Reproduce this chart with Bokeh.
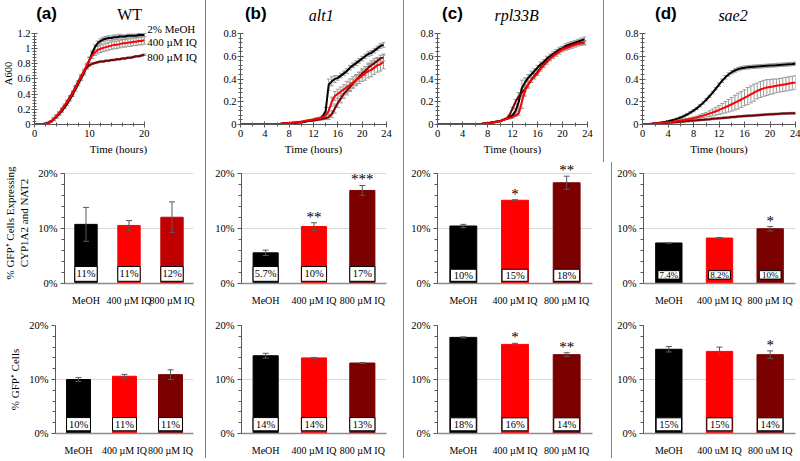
import numpy as np
from bokeh.plotting import figure
from bokeh.models import (ColumnDataSource, Range1d, FactorRange, Label, Whisker, TeeHead, Div,
                          SingleIntervalTicker, CustomJSTickFormatter, PrintfTickFormatter)
from bokeh.layouts import row, column
from bokeh.embed import file_html
from bokeh.resources import INLINE
from bokeh.core.properties import value

SERIF = "Liberation Serif"
SANS = "Liberation Sans"
COL_MEOH = "#000000"
COL_400 = "#FF0000"
COL_800 = "#7B0000"
COL_800_A = "#C00000"
ERR_LINE = "#9a9a9a"
ERR_BAR = "#595959"
AXIS = "#595959"
SEP = "#808080"

# ---------------- growth curves (A600) ----------------
A_T = np.arange(41) * 0.5
A_MEOH = [0,0,0,0, 0.01,0.02,0.04,0.07, 0.1,0.14,0.18,0.23, 0.28,0.34,0.4,0.47, 0.54,0.61,0.68,0.76,
          0.85,0.94,1.02,1.07, 1.1,1.12,1.13,1.14, 1.14,1.15,1.15,1.16, 1.16,1.16,1.17,1.17, 1.17,1.17,1.18,1.18, 1.18]
A_400 = [0,0,0,0, 0.01,0.02,0.04,0.07, 0.11,0.15,0.2,0.25, 0.3,0.36,0.42,0.49, 0.56,0.63,0.7,0.78,
         0.85,0.91,0.95,0.98, 1.0,1.01,1.02,1.03, 1.04,1.05,1.05,1.06, 1.07,1.07,1.08,1.08, 1.09,1.09,1.1,1.1, 1.11]
A_800 = [0,0,0,0, 0.01,0.02,0.04,0.07, 0.11,0.15,0.2,0.25, 0.31,0.37,0.43,0.5, 0.57,0.64,0.7,0.75,
         0.78,0.8,0.81,0.82, 0.83,0.83,0.84,0.84, 0.85,0.85,0.86,0.86, 0.87,0.87,0.88,0.88, 0.89,0.9,0.9,0.91, 0.92]
A_MEOH_E = [0,0,0,0, .01,.01,.01,.02, .02,.02,.02,.02, .03,.03,.03,.03, .03,.03,.03,.03,
            .03,.03,.03,.03, .03,.03,.03,.03, .03,.03,.03,.03, .02,.02,.02,.02, .02,.02,.02,.02, .02]
A_400_E = [0,0,0,0, .01,.01,.01,.02, .02,.02,.02,.02, .02,.02,.02,.02, .02,.03,.03,.03,
           .04,.04,.04,.05, .05,.05,.05,.05, .05,.05,.05,.05, .05,.05,.05,.05, .05,.05,.05,.05, .05]
A_800_E = [0,0,0,0, .01,.01,.01,.01, .01,.01,.01,.01, .01,.01,.01,.01, .01,.01,.01,.01,
           .01,.01,.01,.01, .01,.01,.01,.01, .01,.01,.01,.01, .01,.01,.01,.01, .01,.01,.01,.01, .01]

B_T = np.arange(48) * 0.5
B_MEOH = [0,0,0,0, 0,0,0,0, 0,0,0,0, 0.005,0.005,0.01,0.01, 0.01,0.015,0.015,0.02, 0.02,0.025,0.03,0.035,
          0.04,0.045,0.05,0.07, 0.12,0.35,0.38,0.40, 0.41,0.43,0.45,0.47, 0.50,0.52,0.54,0.56,
          0.58,0.60,0.62,0.63, 0.65,0.67,0.69,0.70]
B_400 = [0,0,0,0, 0,0,0,0, 0,0,0,0, 0.005,0.005,0.01,0.01, 0.012,0.015,0.018,0.02, 0.025,0.03,0.035,0.04,
         0.045,0.05,0.055,0.065, 0.08,0.12,0.2,0.25, 0.27,0.29,0.31,0.33, 0.35,0.37,0.39,0.41,
         0.43,0.45,0.47,0.48, 0.50,0.52,0.53,0.55]
B_800 = [0,0,0,0, 0,0,0,0, 0,0,0,0, 0.005,0.005,0.01,0.01, 0.01,0.012,0.015,0.018, 0.02,0.025,0.03,0.033,
         0.036,0.04,0.045,0.05, 0.055,0.065,0.09,0.14, 0.19,0.23,0.27,0.30, 0.33,0.36,0.39,0.42,
         0.45,0.47,0.50,0.52, 0.54,0.56,0.58,0.59]
B_MEOH_E = [0,0,0,0, 0,0,0,0, 0,0,0,0, 0,0,0,0, .005,.005,.005,.005, .005,.005,.005,.005,
            .005,.005,.01,.01, .03,.05,.04,.03, .02,.02,.02,.02, .02,.02,.02,.02, .02,.02,.02,.02, .02,.02,.02,.02]
B_400_E = [0,0,0,0, 0,0,0,0, 0,0,0,0, 0,0,0,0, .005,.005,.005,.005, .005,.005,.005,.005,
           .005,.01,.01,.01, .02,.03,.04,.04, .04,.04,.04,.05, .05,.05,.05,.05, .05,.06,.06,.06, .06,.06,.06,.06]
B_800_E = [0,0,0,0, 0,0,0,0, 0,0,0,0, 0,0,0,0, .005,.005,.005,.005, .005,.005,.005,.005,
           .005,.005,.01,.01, .01,.02,.03,.04, .04,.04,.04,.04, .04,.04,.04,.04, .04,.04,.04,.04, .04,.03,.03,.03]

C_T = np.arange(48) * 0.5
C_MEOH = [0,0,0,0, 0,0,0,0, 0,0,0,0, 0,0.005,0.005,0.01, 0.01,0.015,0.02,0.025, 0.03,0.04,0.05,0.06,
          0.08,0.12,0.2,0.32, 0.37,0.41,0.44,0.47, 0.5,0.53,0.55,0.58, 0.6,0.62,0.64,0.66,
          0.67,0.69,0.7,0.71, 0.72,0.73,0.74,0.75]
C_400 = [0,0,0,0, 0,0,0,0, 0,0,0,0, 0,0.005,0.005,0.01, 0.01,0.015,0.02,0.025, 0.03,0.04,0.05,0.055,
         0.065,0.08,0.1,0.2, 0.3,0.35,0.39,0.42, 0.45,0.49,0.52,0.55, 0.58,0.6,0.62,0.64,
         0.66,0.67,0.68,0.69, 0.7,0.71,0.715,0.72]
C_800 = [0,0,0,0, 0,0,0,0, 0,0,0,0, 0,0.005,0.005,0.01, 0.01,0.015,0.02,0.025, 0.03,0.04,0.05,0.08,
         0.14,0.2,0.25,0.28, 0.31,0.35,0.39,0.43, 0.46,0.5,0.53,0.56, 0.58,0.61,0.63,0.65,
         0.67,0.68,0.69,0.7, 0.71,0.715,0.72,0.72]
C_MEOH_E = [0,0,0,0, 0,0,0,0, 0,0,0,0, 0,0,0,0, .005,.005,.005,.005, .005,.005,.005,.005,
            .01,.02,.08,.07, .04,.03,.03,.02, .02,.02,.02,.02, .02,.02,.02,.02, .02,.02,.02,.02, .02,.02,.02,.02]
C_400_E = [0,0,0,0, 0,0,0,0, 0,0,0,0, 0,0,0,0, .005,.005,.005,.005, .005,.005,.005,.005,
           .01,.01,.02,.06, .05,.03,.02,.02, .02,.02,.02,.02, .02,.02,.02,.02, .02,.02,.02,.02, .02,.02,.02,.02]
C_800_E = [0,0,0,0, 0,0,0,0, 0,0,0,0, 0,0,0,0, .005,.005,.005,.005, .005,.005,.005,.005,
           .01,.02,.03,.03, .02,.02,.02,.02, .015,.015,.015,.015, .015,.015,.015,.015,
           .015,.015,.015,.015, .015,.015,.015,.015]

D_T = np.arange(49) * 0.5
D_MEOH = [0,0.002,0.004,0.006, 0.01,0.013,0.017,0.022, 0.028,0.035,0.043,0.052, 0.062,0.074,0.088,0.104,
          0.122,0.142,0.165,0.19, 0.218,0.248,0.28,0.315, 0.35,0.385,0.415,0.44, 0.46,0.475,0.487,0.495,
          0.5,0.503,0.506,0.508, 0.51,0.512,0.514,0.516, 0.518,0.52,0.522,0.524, 0.526,0.528,0.53,0.532, 0.535]
D_400 = [0,0.002,0.004,0.006, 0.008,0.01,0.013,0.016, 0.02,0.023,0.027,0.031, 0.035,0.04,0.045,0.05,
         0.056,0.062,0.07,0.078, 0.087,0.096,0.106,0.117, 0.128,0.14,0.152,0.165, 0.178,0.192,0.206,0.22,
         0.235,0.25,0.265,0.28, 0.295,0.308,0.318,0.325, 0.33,0.335,0.34,0.345, 0.35,0.355,0.36,0.365, 0.37]
D_800 = [0,0.002,0.004,0.006, 0.008,0.01,0.012,0.014, 0.016,0.018,0.02,0.022, 0.025,0.027,0.03,0.032,
         0.035,0.037,0.04,0.042, 0.045,0.047,0.05,0.052, 0.055,0.057,0.06,0.062, 0.065,0.067,0.07,0.072,
         0.074,0.076,0.078,0.08, 0.082,0.084,0.086,0.088, 0.09,0.091,0.093,0.094, 0.096,0.097,0.098,0.099, 0.1]
D_MEOH_E = [0,0,0,0, .005,.005,.005,.005, .005,.005,.005,.005, .01,.01,.01,.01, .01,.01,.01,.01,
            .01,.01,.01,.01, .015,.015,.015,.015, .015,.015,.015,.015, .015,.015,.015,.015,
            .015,.015,.015,.015, .015,.015,.015,.015, .015,.015,.015,.015, .015]
D_400_E = [0,0,0,0, .003,.003,.003,.003, .005,.005,.005,.005, .008,.008,.008,.008, .01,.012,.015,.018,
           .02,.025,.03,.035, .04,.045,.05,.055, .06,.065,.07,.07, .07,.075,.075,.075, .07,.07,.07,.07,
           .065,.065,.06,.06, .06,.06,.06,.06, .06]
D_800_E = [0,0,0,0, .008,.008,.008,.008, .008,.008,.008,.008, .008,.008,.008,.008, .008,.008,.008,.008,
           .008,.008,.008,.008, .008,.008,.008,.008, .008,.008,.008,.008, .008,.008,.008,.008,
           .008,.008,.008,.008, .008,.008,.008,.008, .008,.008,.008,.008, .008]

LEGEND_A = ["2% MeOH", "400 \u00b5M IQ", "800 \u00b5M IQ"]
LEGEND_A_Y = [1.265, 1.085, 0.89]

# ---------------- bar data (%) ----------------
CATS = ["MeOH", "400 \u00b5M IQ", "800 \u00b5M IQ"]
CATS_U = ["MeOH", "400 uM IQ", "800 uM IQ"]

A_MID = [10.8, 10.6, 12.1]; A_MID_E = [3.1, 0.9, 2.8]; A_MID_L = ["11%", "11%", "12%"]
B_MID = [5.6, 10.4, 17.0]; B_MID_E = [0.5, 0.7, 0.9]; B_MID_L = ["5.7%", "10%", "17%"]
C_MID = [10.5, 15.2, 18.4]; C_MID_E = [0.3, 0.1, 1.2]; C_MID_L = ["10%", "15%", "18%"]
D_MID = [7.4, 8.3, 10.0]; D_MID_E = [0.05, 0.1, 0.4]; D_MID_L = ["7.4%", "8.2%", "10%"]
B_MID_S = ["", "**", "***"]; C_MID_S = ["", "*", "**"]; D_MID_S = ["", "", "*"]

A_BOT = [10.0, 10.6, 10.9]; A_BOT_E = [0.35, 0.35, 0.9]; A_BOT_L = ["10%", "11%", "11%"]
B_BOT = [14.4, 14.0, 13.05]; B_BOT_E = [0.45, 0.08, 0.1]; B_BOT_L = ["14%", "14%", "13%"]
C_BOT = [17.8, 16.5, 14.6]; C_BOT_E = [0.1, 0.2, 0.35]; C_BOT_L = ["18%", "16%", "14%"]
D_BOT = [15.6, 15.2, 14.6]; D_BOT_E = [0.5, 0.8, 0.7]; D_BOT_L = ["15%", "15%", "14%"]
C_BOT_S = ["", "*", "**"]; D_BOT_S = ["", "", "*"]
NO_S = ["", "", ""]


def style_axes(p):
    for ax in p.axis:
        ax.axis_line_color = AXIS
        ax.major_tick_line_color = AXIS
        ax.minor_tick_line_color = AXIS
        ax.major_label_text_font = SERIF
        ax.major_label_text_font_size = "10.5px"
        ax.major_label_text_color = "black"
        ax.axis_label_text_font = SERIF
        ax.axis_label_text_font_size = "11px"
        ax.axis_label_text_font_style = "normal"
        ax.axis_label_text_color = "black"


def header(w, h, letter, letter_x, title, title_x, title_y, italic):
    p = figure(width=w, height=h, x_range=Range1d(0, w), y_range=Range1d(0, h),
               x_axis_location=None, y_axis_location=None, output_backend="svg",
               toolbar_location=None, min_border=0)
    p.outline_line_color = None
    p.grid.visible = False
    p.add_layout(Label(x=letter_x, y=h - 3, text=letter, text_font=SANS, text_font_style="bold",
                       text_font_size="17px", text_baseline="top", text_align="left",
                       text_color="black"))
    p.add_layout(Label(x=title_x, y=title_y, text=title, text_font=SERIF,
                       text_font_style="italic" if italic else "normal", text_font_size="16px",
                       text_baseline="middle", text_align="center", text_color="black"))
    return p


def line_panel(t, series, errs, xmax, xend, ymax, yend, xint, xminor, w, h, bl, br, bt, bb, ylabel=None):
    p = figure(width=w, height=h, x_range=Range1d(0, xend), y_range=Range1d(0, yend),
               output_backend="svg", toolbar_location=None,
               min_border_left=bl, min_border_right=br, min_border_top=bt, min_border_bottom=bb)
    p.outline_line_color = None
    p.xgrid.visible = False
    p.ygrid.visible = False
    p.xaxis.ticker = SingleIntervalTicker(interval=xint, num_minor_ticks=xminor)
    p.xaxis.bounds = (0, xmax)
    p.yaxis.ticker = SingleIntervalTicker(interval=0.2, num_minor_ticks=5)
    p.yaxis.bounds = (0, ymax + 0.0005)
    p.yaxis.formatter = CustomJSTickFormatter(code="return Number(tick.toFixed(1)).toString();")
    p.xaxis.axis_label = "Time (hours)"
    if ylabel:
        p.yaxis.axis_label = ylabel
    style_axes(p)
    for ax in p.axis:
        ax.major_tick_in = 3
        ax.major_tick_out = 3
        ax.minor_tick_in = 2
        ax.minor_tick_out = 2
        ax.major_label_standoff = 2
        ax.axis_label_standoff = 3
    p.yaxis.major_label_standoff = 1
    p.yaxis.axis_label_standoff = 0
    p.yaxis.axis_label_text_font_size = "10.5px"
    colors = [COL_MEOH, COL_400, COL_800]
    srcs = []
    for ys, es in zip(series, errs):
        ys = np.array(ys, dtype=float)
        es = np.array(es, dtype=float)
        srcs.append(ColumnDataSource(dict(x=t, y=ys, lo=ys - es, hi=ys + es)))
    for src in srcs:
        p.add_layout(Whisker(source=src, base="x", lower="lo", upper="hi", line_color=ERR_LINE,
                             line_width=1, level="underlay",
                             upper_head=TeeHead(size=4, line_color=ERR_LINE, line_width=1),
                             lower_head=TeeHead(size=4, line_color=ERR_LINE, line_width=1)))
    for i in [0, 2, 1]:
        p.line("x", "y", source=srcs[i], line_color=colors[i], line_width=2)
    return p


def bar_panel(cats, vals, errs, labels, colors, stars, w, h, bl, br, bt, bb, ytop,
              box, box_w, box_fs, ylabel=None):
    p = figure(width=w, height=h, x_range=FactorRange(factors=cats), y_range=Range1d(0, ytop),
               output_backend="svg", toolbar_location=None,
               min_border_left=bl, min_border_right=br, min_border_top=bt, min_border_bottom=bb)
    p.outline_line_color = None
    p.xgrid.visible = False
    p.ygrid.grid_line_color = "#d9d9d9"
    p.yaxis.ticker = SingleIntervalTicker(interval=10, num_minor_ticks=5)
    p.yaxis.formatter = PrintfTickFormatter(format="%d%%")
    p.yaxis.bounds = (0, 20)
    if ylabel:
        p.yaxis.axis_label = ylabel
    style_axes(p)
    p.yaxis.major_tick_in = 0
    p.yaxis.major_tick_out = 4
    p.yaxis.minor_tick_in = 0
    p.yaxis.minor_tick_out = 3
    p.yaxis.major_label_standoff = 3
    p.yaxis.axis_label_standoff = 5
    p.xaxis.major_tick_line_color = None
    p.xaxis.minor_tick_line_color = None
    p.xaxis.axis_line_color = "#8c8c8c"
    p.xaxis.axis_line_width = 1.5
    p.xaxis.major_label_standoff = 5
    p.xaxis.major_label_text_font_size = "10px"
    src = ColumnDataSource(dict(x=cats, top=vals, color=colors,
                                lo=[v - e for v, e in zip(vals, errs)],
                                hi=[v + e for v, e in zip(vals, errs)], lab=labels))
    p.vbar(x="x", top="top", width=0.52, fill_color="color", line_color="color", source=src)
    p.add_layout(Whisker(source=src, base="x", lower="lo", upper="hi", line_color=ERR_BAR,
                         line_width=1, level="annotation",
                         upper_head=TeeHead(size=6, line_color=ERR_BAR, line_width=1),
                         lower_head=TeeHead(size=6, line_color=ERR_BAR, line_width=1)))
    p.vbar(x="x", bottom=box[0], top=box[1], width=box_w, fill_color="white",
           line_color="black", line_width=1, source=src)
    p.text(x="x", y=(box[0] + box[1]) / 2, text="lab", source=src, text_align="center",
           text_baseline="middle", text_font=value(SERIF), text_font_size=box_fs, text_color="black")
    for i, s in enumerate(stars):
        if s:
            p.add_layout(Label(x=i + 0.5, y=vals[i] + errs[i], y_offset=-2, text=s,
                               text_align="center", text_baseline="bottom", text_font=SERIF,
                               text_font_size="15px", text_color="#000000"))
    return p


HA, LA = 22, 140        # column a: header + line chart (162)
HH, L1 = 26, 136        # columns b-d: header + line chart (162)
H2, H3 = 146, 150
WA, WB = 205, 197
WC1, WD1 = 199, 196
WC2, WD2 = 207, 188

a1 = line_panel(A_T, [A_MEOH, A_400, A_800], [A_MEOH_E, A_400_E, A_800_E], 20, 30.6, 1.2, 1.345, 10, 5,
                WA, LA, 30, 3, 0, 38, ylabel="A600")
for txt, yy in zip(LEGEND_A, LEGEND_A_Y):
    a1.add_layout(Label(x=20, y=yy, x_offset=3, text=txt, text_font=SERIF, text_font_size="11px",
                        text_baseline="middle", text_align="left", text_color="black"))
b1 = line_panel(B_T, [B_MEOH, B_400, B_800], [B_MEOH_E, B_400_E, B_800_E], 24, 24, 0.8, 0.8005, 4, 2,
                WB, L1, 34, 17, 7, 38)
c1 = line_panel(C_T, [C_MEOH, C_400, C_800], [C_MEOH_E, C_400_E, C_800_E], 24, 24, 0.8, 0.8005, 4, 2,
                WC1, L1, 33, 16, 7, 38)
d1 = line_panel(D_T, [D_MEOH, D_400, D_800], [D_MEOH_E, D_400_E, D_800_E], 24, 24, 0.8, 0.8005, 4, 2,
                WD1, L1, 38, 5, 7, 38)

ha = header(WA, HA, "(a)", 2, "WT", 116, 8, False)
hb = header(WB, HH, "(b)", 6, "alt1", 109, 11, True)
hc = header(WC1, HH, "(c)", 6, "rpl33B", 105, 11, True)
hd = header(WD1, HH, "(d)", 16, "sae2", 116, 11, True)

MID_COLS_A = [COL_MEOH, COL_400, COL_800_A]
COLS = [COL_MEOH, COL_400, COL_800]
YT2 = 22.1

a2 = bar_panel(CATS, A_MID, A_MID_E, A_MID_L, MID_COLS_A, NO_S, WA, H2, 55, 12, 0, 21, YT2,
               (0.4, 3.1), 0.52, "10.5px", ylabel="% GFP\u207a Cells Expressing\nCYP1A2 and NAT2")
b2 = bar_panel(CATS, B_MID, B_MID_E, B_MID_L, COLS, B_MID_S, WB, H2, 35, 17, 0, 21, YT2,
               (0.4, 3.1), 0.52, "10.5px")
c2 = bar_panel(CATS, C_MID, C_MID_E, C_MID_L, COLS, C_MID_S, WC2, H2, 33, 19, 0, 21, YT2,
               (0.4, 2.6), 0.5, "10.5px")
d2 = bar_panel(CATS, D_MID, D_MID_E, D_MID_L, COLS, D_MID_S, WD2, H2, 31, 5, 0, 21, YT2,
               (0.8, 2.35), 0.43, "9px")

a3 = bar_panel(CATS, A_BOT, A_BOT_E, A_BOT_L, COLS, NO_S, WA, H3, 55, 12, 17, 21, 20,
               (0.5, 2.95), 0.52, "10.5px", ylabel="% GFP\u207a Cells")
b3 = bar_panel(CATS, B_BOT, B_BOT_E, B_BOT_L, COLS, NO_S, WB, H3, 35, 17, 17, 21, 20,
               (0.5, 2.95), 0.52, "10.5px")
c3 = bar_panel(CATS, C_BOT, C_BOT_E, C_BOT_L, COLS, C_BOT_S, WC2, H3, 33, 19, 17, 21, 20,
               (0.5, 2.9), 0.5, "10.5px")
d3 = bar_panel(CATS_U, D_BOT, D_BOT_E, D_BOT_L, COLS, D_BOT_S, WD2, H3, 31, 5, 17, 21, 20,
               (0.5, 2.9), 0.5, "10.5px")


def sep(h):
    return Div(text="", width=1, height=h, margin=0, styles={"background-color": SEP})


R1 = HH + L1
r1 = row(column(ha, a1), sep(R1), column(hb, b1), sep(R1), column(hc, c1), sep(R1), column(hd, d1))
r2 = row(a2, sep(H2), b2, sep(H2), c2, sep(H2), d2)
r3 = row(a3, sep(H3), b3, sep(H3), c3, sep(H3), d3)
layout = column(r1, r2, r3)

open("out.html", "w").write(file_html(layout, INLINE))
